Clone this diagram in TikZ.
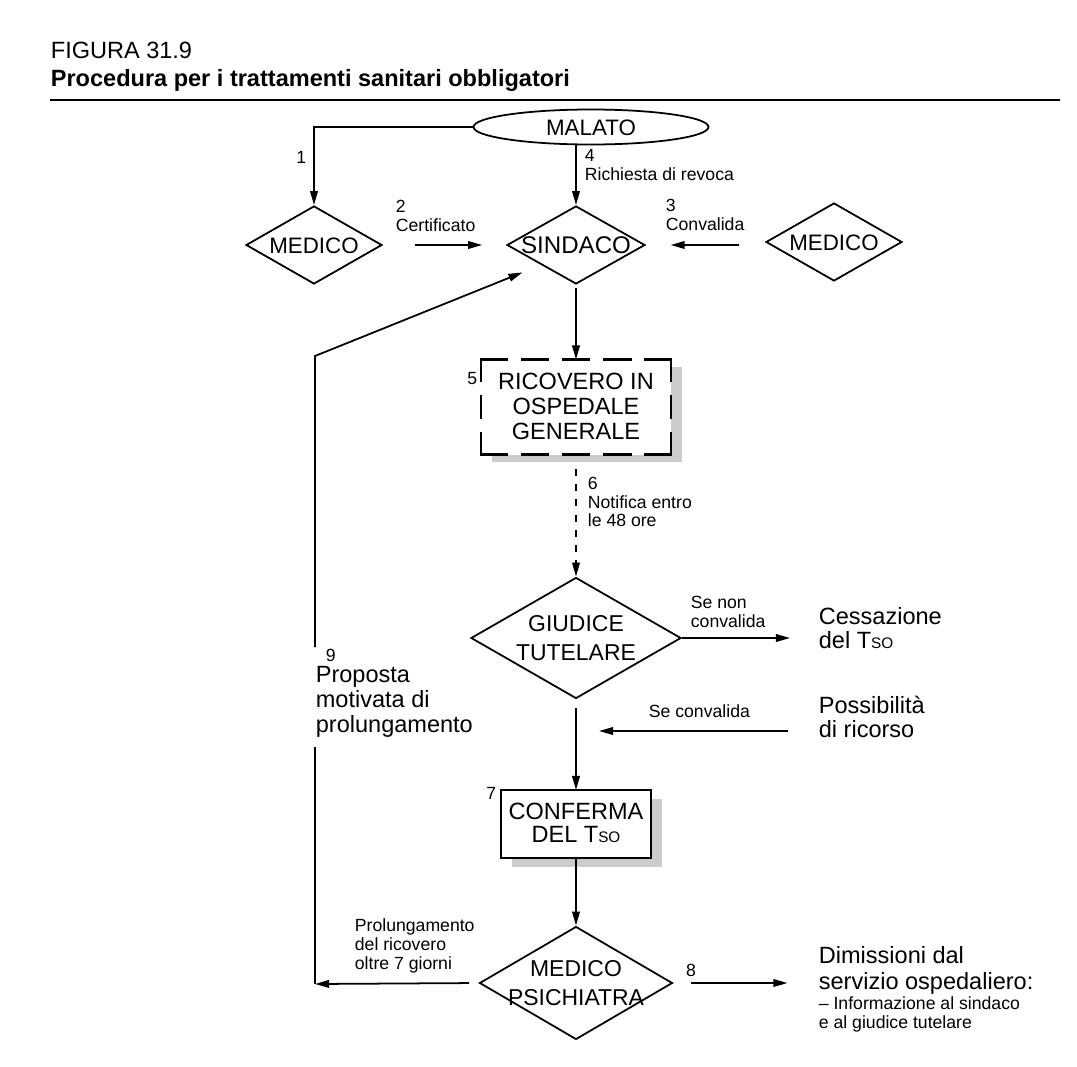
\documentclass[tikz,border=0pt]{standalone}
\usepackage{fontspec}
\setmainfont{Liberation Sans}
\usetikzlibrary{shapes.geometric,arrows.meta,shadows}
\newcommand\ctext[1]{\smash{\makebox[0pt]{\raisebox{-0.37em}{\begin{tabular}{@{}c@{}}#1\end{tabular}}}}}
\newcommand\tso{T{\fontsize{13}{13}\selectfont SO}}
\begin{document}
\begin{tikzpicture}[x=0.85pt,y=-0.85pt,line width=1.5pt,
  arr/.style={-{Triangle[length=12pt,width=6.5pt]}},
  dia/.style={shape=diamond,draw,inner sep=0pt,fill=white},
  boxnode/.style={rectangle,inner sep=0pt,outer sep=0pt,fill=white},
  lab/.style={inner sep=0pt,align=left,font=\fontsize{15}{16}\selectfont},
  big/.style={inner sep=0pt,align=left,font=\fontsize{20}{21}\selectfont},
  dashside/.style={line width=2.5pt,line cap=rect}
]
\useasboundingbox (0,0) rectangle (1077,1067);
% title
\node[anchor=base west,inner sep=0pt,font=\fontsize{20}{24}\selectfont] (fig) at (50,58) {FIGURA 31.9};
\node[anchor=base west,inner sep=0pt,font=\fontsize{20}{24}\selectfont\bfseries] (ttl) at (50,86) {Procedura per i trattamenti sanitari obbligatori};
\coordinate (ruleL) at (50,100);
\coordinate (ruleR) at (1060,100);
\draw[line width=2pt] (ruleL) -- (ruleR);

% main nodes
\node[ellipse,draw,minimum width=199.75pt,minimum height=29.75pt,inner sep=0pt,font=\fontsize{19}{22}\selectfont] (mal) at (591,127) {\ctext{MALATO}};
\node[dia,minimum width=115.6pt,minimum height=66.3pt,font=\fontsize{19}{22}\selectfont] (medL) at (314,245) {\ctext{MEDICO}};
\node[dia,minimum width=117.3pt,minimum height=66.3pt,font=\fontsize{20.5}{24}\selectfont] (sind) at (576,245) {\ctext{SINDACO}};
\node[dia,minimum width=115.6pt,minimum height=66.3pt,font=\fontsize{19}{22}\selectfont] (medR) at (834,242) {\ctext{MEDICO}};
\node[boxnode,minimum width=161.5pt,minimum height=80.75pt,font=\fontsize{20}{21}\selectfont,
  drop shadow={shadow xshift=9.35pt,shadow yshift=-6pt,fill=gray!40,opacity=1}] (ric) at (576,407) {\ctext{RICOVERO IN\\OSPEDALE\\GENERALE}};
\draw[dashside,dash pattern=on 22pt off 12.9pt] (ric.north west) -- (ric.north east);
\draw[dashside,dash pattern=on 22pt off 12.9pt] (ric.south west) -- (ric.south east);
\draw[dashside,dash pattern=on 18pt off 13.4pt] (ric.north west) -- (ric.south west);
\draw[dashside,dash pattern=on 18pt off 13.4pt] (ric.north east) -- (ric.south east);
\node[dia,minimum width=178.5pt,minimum height=102.85pt,font=\fontsize{19.5}{24}\selectfont] (giud) at (576,638) {\ctext{GIUDICE\\TUTELARE}};
\node[boxnode,draw,minimum width=127.5pt,minimum height=57.8pt,font=\fontsize{20}{19.5}\selectfont,
  drop shadow={shadow xshift=9.35pt,shadow yshift=-7.65pt,fill=gray!40,opacity=1}] (conf) at (576,824) {\ctext{CONFERMA\\DEL \tso}};
\node[dia,minimum width=164pt,minimum height=96pt,font=\fontsize{19.5}{24}\selectfont] (medpsi) at (576,983) {\ctext{MEDICO\\PSICHIATRA}};

% side texts
\node[big,anchor=west] (cess) at (818,628) {Cessazione\\del \tso};
\node[big,anchor=west] (poss) at (818,717) {Possibilità\\di ricorso};
\node[big,anchor=west] (prop) at (315,702) {Proposta\\motivata di\\prolungamento};
\node[inner sep=0pt,align=left,anchor=west,font=\fontsize{20}{22}\selectfont] (dim) at (818,970) {Dimissioni dal\\servizio ospedaliero:};
\node[lab,anchor=north west] (dimn) at (818,996) {– Informazione al sindaco\\e al giudice tutelare};

% labels
\node[lab,anchor=east] (l1) at (307,157) {1};
\node[lab,anchor=west] (l4) at (584,165) {4\\Richiesta di revoca};
\node[lab,anchor=west] (l2) at (395,216) {2\\Certificato};
\node[lab,anchor=west] (l3) at (665,215) {3\\Convalida};
\node[lab,anchor=east] (l5) at (478,379) {5};
\node[lab,anchor=west] (l6) at (587,502) {6\\Notifica entro\\le 48 ore};
\node[lab,anchor=west] (lsn) at (690,612) {Se non\\convalida};
\node[lab,anchor=west] (lsc) at (648,711) {Se convalida};
\node[lab,anchor=west] (l9) at (325,655) {9};
\node[lab,anchor=east] (l7) at (497,793) {7};
\node[lab,anchor=west] (lprol) at (354,946) {Prolungamento\\del ricovero\\oltre 7 giorni};
\node[lab] (l8) at (691,970) {8};

% coordinates of the return path
\coordinate (c9t) at (315,356);
\coordinate (c9u) at (315,647);
\coordinate (c9l) at (315,747);
\coordinate (c9b) at (315,984);
\coordinate (convEnd) at (599,731);

% connectors
\draw[arr] (mal.west) -- (medL.north |- mal.west) -- (medL.north);
\draw[arr] (sind.north |- mal.south) -- (sind.north);
\draw[arr,shorten <=27pt,shorten >=20.4pt] (medL.east) -- (sind.west);
\draw[arr,shorten <=22pt,shorten >=21pt] (medR.west |- sind.east) -- (sind.east);
\draw[arr,shorten <=3pt] (sind.south) -- (ric.north);
\draw[arr,dash pattern=on 6pt off 7pt,shorten <=12pt] (ric.south) -- (giud.north);
\draw[arr,shorten >=23.8pt] (giud.east) -- (giud.east -| cess.west);
\draw[arr,shorten <=25.5pt] (poss.west |- convEnd) -- (convEnd);
\draw[arr,shorten <=7.6pt] (giud.south) -- (conf.north);
\draw[arr] (conf.south) -- (medpsi.north);
\draw[arr,shorten <=8pt] (medpsi.west) -- (c9b);
\draw (c9b) -- (c9l);
\draw[arr,shorten >=17pt] (c9u) -- (c9t) -- (sind.south west);
\draw[arr,shorten <=15pt,shorten >=26pt] (medpsi.east) -- (medpsi.east -| dim.west);
\end{tikzpicture}
\end{document}
